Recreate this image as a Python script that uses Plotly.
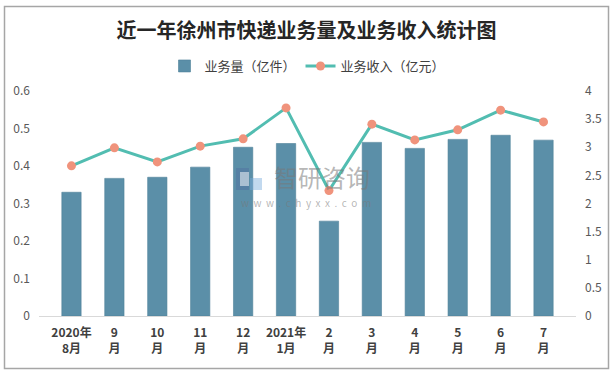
import plotly.graph_objects as go

categories = ["2020年8月", "9月", "10月", "11月", "12月", "2021年1月",
              "2月", "3月", "4月", "5月", "6月", "7月"]
tick_labels = ["2020年<br>8月", "9<br>月", "10<br>月", "11<br>月", "12<br>月", "2021年<br>1月",
               "2<br>月", "3<br>月", "4<br>月", "5<br>月", "6<br>月", "7<br>月"]
volume = [0.33, 0.367, 0.37, 0.397, 0.45, 0.46, 0.253, 0.463, 0.447, 0.471, 0.482, 0.469]
revenue = [2.67, 2.99, 2.74, 3.02, 3.15, 3.70, 2.23, 3.41, 3.13, 3.31, 3.66, 3.45]
left_ticks = [0, 0.1, 0.2, 0.3, 0.4, 0.5, 0.6]
right_ticks = [0, 0.5, 1, 1.5, 2, 2.5, 3, 3.5, 4]

FONT = "Noto Sans CJK SC"
W, H = 613, 373
L, R, T, B = 39, 37, 91, 57
pw, ph = W - L - R, H - T - B

def px(x):
    return (x - L) / pw

def py(y):
    return (H - B - y) / ph

fig = go.Figure()
fig.add_trace(go.Bar(
    x=categories, y=volume, name="业务量（亿件）",
    marker=dict(color="#5b8fa8", line=dict(color="#4f8299", width=0.6)),
    yaxis="y",
))
fig.add_trace(go.Scatter(
    x=categories, y=revenue, name="业务收入（亿元）", mode="lines+markers",
    line=dict(color="#52bdb1", width=3),
    marker=dict(color="#f0937c", size=9),
    yaxis="y2",
))

fig.update_layout(
    width=W, height=H,
    margin=dict(l=L, r=R, t=T, b=B),
    paper_bgcolor="white", plot_bgcolor="white",
    font=dict(family=FONT, color="#404040", size=12),
    title=dict(text="<b>近一年徐州市快递业务量及业务收入统计图</b>",
               x=0.5, xanchor="center", y=(H - 31) / H, yanchor="middle",
               font=dict(family=FONT, size=20, color="#262626")),
    legend=dict(orientation="h", x=0.5, xanchor="center", y=py(66), yanchor="middle",
                font=dict(size=13, color="#404040"), itemwidth=30,
                bgcolor="rgba(0,0,0,0)"),
    bargap=0.55,
    showlegend=True,
    xaxis=dict(type="category", tickmode="array", tickvals=categories,
               ticktext=["<b>" + t + "</b>" for t in tick_labels],
               showline=True, linecolor="#d9d9d9", linewidth=1, showgrid=False,
               ticks="", tickfont=dict(size=12, color="#404040", family=FONT),
               ticklabelstandoff=6),
    yaxis=dict(range=[0, 0.6], tickvals=left_ticks, ticktext=[str(v) for v in left_ticks],
               showgrid=False, zeroline=False, showline=False,
               tickfont=dict(size=12, color="#595959"), ticklabelstandoff=8),
    yaxis2=dict(range=[0, 4], tickvals=right_ticks, ticktext=[str(v) for v in right_ticks],
                overlaying="y", side="right", showgrid=False, zeroline=False, showline=False,
                tickfont=dict(size=12, color="#595959"), ticklabelstandoff=8),
)

# outer border
fig.add_shape(type="rect", xref="paper", yref="paper",
              x0=px(4.5), x1=px(608.5), y0=py(368.5), y1=py(6.5),
              line=dict(color="#a6a6a6", width=1.5), layer="below")

# watermark
wm = "rgba(120,120,120,0.55)"
fig.add_annotation(text="智研咨询", xref="paper", yref="paper", x=px(322), y=py(176),
                   showarrow=False, font=dict(size=24, color=wm, family=FONT))
fig.add_annotation(text="w  w  w  .  c  h  y  x  x  .  c  o  m", xref="paper", yref="paper",
                   x=px(306), y=py(202), showarrow=False,
                   font=dict(size=10, color=wm, family=FONT))
# logo blocks
fig.add_shape(type="rect", xref="paper", yref="paper", x0=px(236), x1=px(249), y0=py(190), y1=py(168),
              line=dict(width=0), fillcolor="rgba(80,110,160,0.45)")
fig.add_shape(type="rect", xref="paper", yref="paper", x0=px(240), x1=px(249), y0=py(186), y1=py(172),
              line=dict(width=0), fillcolor="rgba(255,255,255,0.5)")
fig.add_shape(type="rect", xref="paper", yref="paper", x0=px(250), x1=px(262), y0=py(190), y1=py(178),
              line=dict(width=0), fillcolor="rgba(120,170,220,0.45)")

fig.write_html("out.html", config={"displayModeBar": False},
               post_script="document.body.style.margin='0';document.body.style.overflow='hidden';")
